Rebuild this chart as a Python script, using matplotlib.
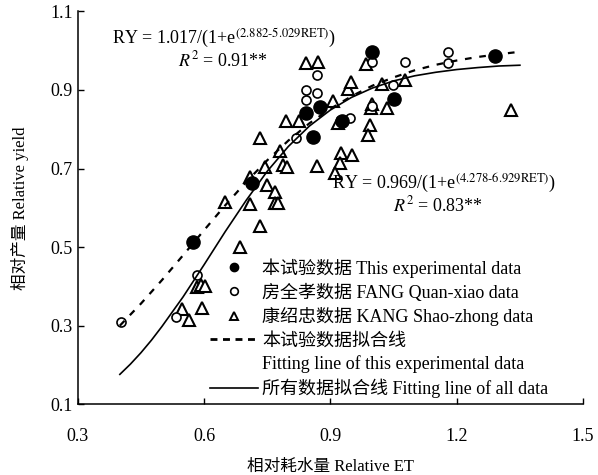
import matplotlib
matplotlib.use("Agg")
import matplotlib.pyplot as plt
from matplotlib.lines import Line2D

plt.rcParams['font.family'] = ['Liberation Serif', 'Noto Sans CJK SC']
plt.rcParams['mathtext.fontset'] = 'stix'
plt.rcParams['axes.unicode_minus'] = False

# 本试验数据 (filled circles)
this_x = [0.574, 0.714, 0.842, 0.875, 0.858, 0.927, 0.998, 1.050, 1.290]
this_y = [0.513, 0.663, 0.841, 0.857, 0.780, 0.821, 0.997, 0.877, 0.987]

# 房全孝数据 (open circles)
fang_x = [0.403, 0.534, 0.583, 0.818, 0.842, 0.842, 0.868, 0.868, 0.946,
          0.998, 0.998, 1.048, 1.077, 1.179, 1.179]
fang_y = [0.309, 0.322, 0.429, 0.778, 0.900, 0.874, 0.892, 0.938, 0.829,
          0.859, 0.971, 0.913, 0.971, 0.997, 0.969]

# 康绍忠数据 (triangles)
kang_x = [0.548, 0.564, 0.595, 0.583, 0.593, 0.602, 0.650, 0.709, 0.685,
          0.733, 0.709, 0.733, 0.745, 0.749, 0.768, 0.768, 0.775, 0.780,
          0.787, 0.797, 0.794, 0.825, 0.842, 0.870, 0.868, 0.906, 0.918,
          0.925, 0.951, 0.922, 0.911, 0.941, 0.949, 0.984, 0.996, 1.034,
          0.994, 0.989, 1.022, 1.077, 1.330, 0.998]
kang_y = [0.342, 0.314, 0.345, 0.398, 0.403, 0.401, 0.615, 0.610, 0.500,
          0.553, 0.678, 0.778, 0.704, 0.658, 0.640, 0.612, 0.612, 0.745,
          0.709, 0.704, 0.821, 0.821, 0.969, 0.971, 0.706, 0.872, 0.816,
          0.739, 0.734, 0.714, 0.689, 0.903, 0.920, 0.966, 0.854, 0.854,
          0.811, 0.785, 0.915, 0.925, 0.849, 0.864]

# fitted curves
fit_this_x = [0.40, 0.45, 0.50, 0.55, 0.60, 0.65, 0.70, 0.75, 0.80, 0.85,
              0.90, 0.95, 1.00, 1.05, 1.10, 1.15, 1.20, 1.25, 1.30, 1.34]
fit_this_y = [0.300, 0.356, 0.416, 0.479, 0.543, 0.606, 0.666, 0.721, 0.771, 0.815,
              0.852, 0.884, 0.911, 0.932, 0.950, 0.964, 0.975, 0.984, 0.991, 0.996]
fit_all_x = [0.400, 0.425, 0.450, 0.475, 0.50, 0.55, 0.60, 0.65, 0.70, 0.75, 0.80, 0.85,
             0.90, 0.95, 1.00, 1.05, 1.10, 1.15, 1.20, 1.25, 1.30, 1.35]
fit_all_y = [0.176, 0.202, 0.231, 0.263, 0.298, 0.373, 0.455, 0.539, 0.619, 0.693, 0.756, 0.808,
             0.849, 0.881, 0.905, 0.923, 0.936, 0.945, 0.952, 0.957, 0.961, 0.963]

xticks = [0.3, 0.6, 0.9, 1.2, 1.5]
yticks = [0.1, 0.3, 0.5, 0.7, 0.9, 1.1]

labels = ["本试验数据 This experimental data",
          "房全孝数据 FANG Quan-xiao data",
          "康绍忠数据 KANG Shao-zhong data",
          "本试验数据拟合线",
          "Fitting line of this experimental data",
          "所有数据拟合线 Fitting line of all data"]

fig = plt.figure(figsize=(5.98, 4.75), dpi=100)
ax = fig.add_axes([0.130, 0.149, 0.845, 0.827])

ax.plot(kang_x, kang_y, ls='none', marker='^', ms=8, mfc='white', mec='black', mew=1.5)
ax.plot(fang_x, fang_y, ls='none', marker='o', ms=6.5, mfc='white', mec='black', mew=1.2)
ax.plot(this_x, this_y, ls='none', marker='o', ms=9.5, mfc='black', mec='black')
ax.plot(fit_this_x, fit_this_y, color='black', lw=1.6, ls=(0, (3, 3.5)))
ax.plot(fit_all_x, fit_all_y, color='black', lw=1.2)

ax.set_xlim(0.3, 1.5)
ax.set_ylim(0.1, 1.1)
ax.set_xticks(xticks)
ax.set_xticklabels([str(t) for t in xticks])
ax.set_yticks(yticks)
ax.set_yticklabels([str(t) for t in yticks])
ax.tick_params(direction='in', length=4, width=1, labelsize=13)
ax.tick_params(axis='x', pad=17)
for s in ['top', 'right']:
    ax.spines[s].set_visible(False)
for s in ['left', 'bottom']:
    ax.spines[s].set_linewidth(1.1)

ax.set_xlabel("相对耗水量 Relative ET", fontsize=12, labelpad=10)
ax.set_ylabel("相对产量 Relative yield", fontsize=12, labelpad=15)

ax.text(0.647, 1.032, r"RY = 1.017/(1+e$^{\text{(2.882-5.029RET)}}$)",
        ha='center', va='center', fontsize=13)
ax.text(0.645, 0.974, r"$R^2$ = 0.91**", ha='center', va='center', fontsize=13)
ax.text(1.171, 0.662, r"RY = 0.969/(1+e$^{\text{(4.278-6.929RET)}}$)",
        ha='center', va='center', fontsize=13)
ax.text(1.155, 0.606, r"$R^2$ = 0.83**", ha='center', va='center', fontsize=13)

handles = [
    Line2D([], [], ls='none', marker='o', ms=6, mfc='black', mec='black'),
    Line2D([], [], ls='none', marker='o', ms=5.5, mfc='white', mec='black', mew=1.2),
    Line2D([], [], ls='none', marker='^', ms=6, mfc='white', mec='black', mew=1.4),
    Line2D([], [], color='black', lw=2, ls=(0, (2.5, 2))),
    Line2D([], [], ls='none'),
    Line2D([], [], color='black', lw=1.2),
]
ax.legend(handles, labels, loc='upper left', bbox_to_anchor=(0.262, 0.372),
          frameon=False, borderpad=0, borderaxespad=0, fontsize=13,
          handlelength=2.65, handletextpad=0.25, labelspacing=0.32)

fig.savefig("out.png", dpi=100)
